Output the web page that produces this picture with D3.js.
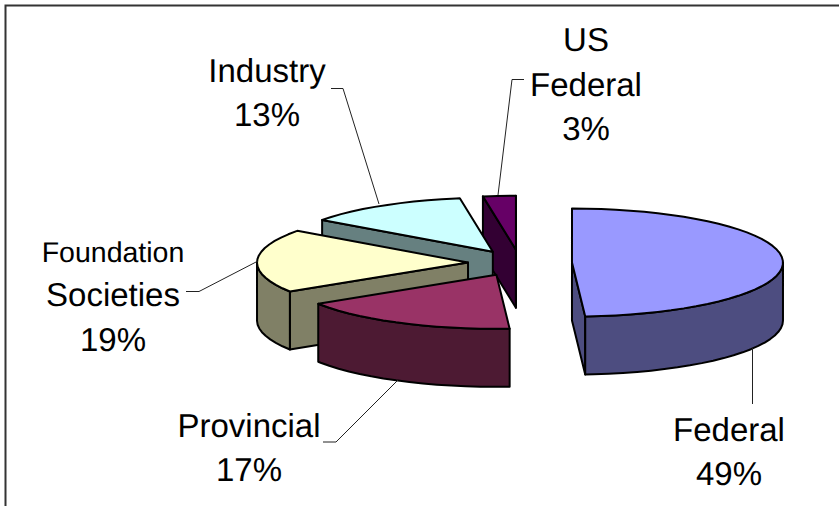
<!DOCTYPE html>
<meta charset="utf-8">
<style>
  body { margin: 0; background: #fff; }
  svg { display: block; }
  .frame { fill: none; stroke: #333; stroke-width: 2; }
  .face { stroke: #000; stroke-width: 2; stroke-linejoin: round; }
  .leader { fill: none; stroke: #222; stroke-width: 1; }
  text { font-family: "Liberation Sans", Arial, sans-serif; fill: #000; text-anchor: middle; text-rendering: geometricPrecision; }
</style>
<body>
<script src="https://d3js.org/d3.v7.min.js"></script>
<script>

// Data (labels round 12.5 and 2.5 up)
var categories = [["Federal"], ["Provincial"], ["Foundation", "Societies"], ["Industry"], ["US", "Federal"]];
var shares = [49, 17, 19, 12.5, 2.5];
var topColors = ["#9999ff", "#993366", "#ffffcc", "#ccffff", "#660066"];
var sideColors = ["#4d4d80", "#4d1a33", "#808066", "#668080", "#330033"];

var width = 839, height = 506;

// Pie geometry
var cx = 520, cy = 263,
    rx = 211, ry = 54,
    depth = 58,
    explode = 52,
    arcStep = 4 * Math.PI / 180;

// Label anchors and leader lines, same order as categories
var labelLayout = [
  { x: 729, lines: [441, 485], sizes: [33], leader: [[752.5, 348], [752.5, 404]] },
  { x: 249, lines: [437, 481], sizes: [33], leader: [[398, 380], [336, 442], [323, 442]] },
  { x: 113, lines: [262, 306, 351], sizes: [28.5, 33, 33], leader: [[258, 261], [199, 291.5], [186, 291.5]] },
  { x: 267, lines: [82, 126], sizes: [33], leader: [[379, 204], [343, 88.5], [331, 88.5]] },
  { x: 586, lines: [51, 96, 140], sizes: [33], leader: [[498, 195], [512, 79.5], [524, 79.5]] }
];

var svg = d3.select("body").append("svg")
    .attr("width", width)
    .attr("height", height);

svg.append("path")
    .attr("class", "frame")
    .attr("d", "M5.5," + height + "V5.5H" + width);

var pie = d3.pie().sort(null).value(function(d) { return d; });
var slices = pie(shares);
var line = d3.line();

// Sample the ellipse between two angles, 0 = 12 o'clock, clockwise
function rim(center, a0, a1, drop) {
  var pts = d3.range(a0, a1, arcStep).concat([a1]);
  return pts.map(function(a) {
    return [center[0] + rx * Math.sin(a), center[1] - ry * Math.cos(a) + drop];
  });
}

function drawSlice(d, i) {
  var mid = (d.startAngle + d.endAngle) / 2;
  var c = [cx + explode * Math.sin(mid), cy - explode * (ry / rx) * Math.cos(mid)];
  var g = svg.append("g").attr("class", "slice");

  function side(pts) {
    g.append("path").attr("class", "face")
        .attr("fill", sideColors[i])
        .attr("d", line(pts) + "Z");
  }

  function cut(a) {
    var p = rim(c, a, a, 0)[0];
    side([c, p, [p[0], p[1] + depth], [c[0], c[1] + depth]]);
  }

  // Cut faces, only those turned towards the viewer
  if (Math.sin(d.startAngle) < 0) cut(d.startAngle);
  if (Math.sin(d.endAngle) > 0) cut(d.endAngle);

  // Outer wall, front half of the ellipse
  var a0 = Math.max(d.startAngle, Math.PI / 2),
      a1 = Math.min(d.endAngle, 3 * Math.PI / 2);
  if (a1 > a0) {
    side(rim(c, a0, a1, 0).concat(rim(c, a0, a1, depth).reverse()));
  }

  g.append("path").attr("class", "face")
      .attr("fill", topColors[i])
      .attr("d", line([c].concat(rim(c, d.startAngle, d.endAngle, 0))) + "Z");
}

// Back to front
[4, 3, 2, 1, 0].forEach(function(i) { drawSlice(slices[i], i); });

// Leaders and labels
labelLayout.forEach(function(l, i) {
  svg.append("path")
      .attr("class", "leader")
      .attr("d", line(l.leader));

  var texts = categories[i].concat([Math.round(shares[i]) + "%"]);
  texts.forEach(function(t, j) {
    svg.append("text")
        .attr("x", l.x)
        .attr("y", l.lines[j])
        .style("font-size", (l.sizes[j] || l.sizes[0]) + "px")
        .text(t);
  });
});

</script>
</body>
